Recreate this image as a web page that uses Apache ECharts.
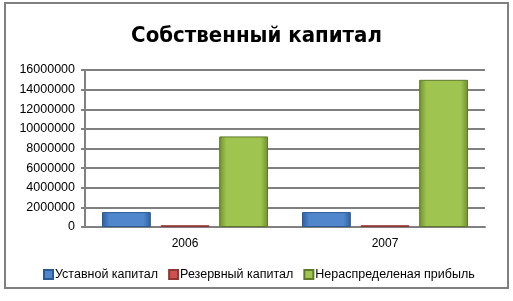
<!DOCTYPE html>
<html><head><meta charset="utf-8">
<script src="https://cdn.jsdelivr.net/npm/echarts@6/dist/echarts.min.js"></script>
<style>html,body{margin:0;padding:0;background:#fff}#c{width:513px;height:301px}</style>
</head><body><div id="c"></div>
<script>
const categories = ['2006', '2007'];
const seriesNames = ['Уставной капитал', 'Резервный капитал', 'Нераспределеная прибыль'];
const ustavnoy = [1520000, 1520000];
const rezervny = [180000, 180000];
const neraspr = [9230000, 15000000];
const yTicks = [0, 2000000, 4000000, 6000000, 8000000, 10000000, 12000000, 14000000, 16000000];

const chart = echarts.init(document.getElementById('c'), null, {renderer: 'canvas'});
function grad(top, bottom) {
  return new echarts.graphic.LinearGradient(0, 0, 1, 0, [
    {offset: 0, color: bottom}, {offset: 0.15, color: top}, {offset: 0.85, color: top}, {offset: 1, color: bottom}
  ]);
}
const font = 'Liberation Sans, sans-serif';
chart.setOption({
  animation: false,
  backgroundColor: '#fff',
  graphic: [{type: 'rect', shape: {x: 5, y: 3, width: 503, height: 285}, style: {fill: 'none', stroke: '#808080', lineWidth: 2}, silent: true}],
  title: {text: 'Собственный капитал', left: 'center', top: 20,
    textStyle: {fontFamily: 'DejaVu Sans Condensed, DejaVu Sans, sans-serif', fontWeight: 'bold', fontSize: 22, color: '#000'}},
  legend: {bottom: 15, left: 38, itemWidth: 9, itemHeight: 9, itemGap: 10, icon: 'rect',
    textStyle: {fontFamily: font, fontSize: 12.5, color: '#000', padding: [0, 0, 0, -3]},
    data: seriesNames},
  grid: {left: 85, right: 28, top: 70, bottom: 74},
  xAxis: {type: 'category', data: categories,
    axisLine: {lineStyle: {color: '#808080', width: 2}}, axisTick: {show: false},
    axisLabel: {fontFamily: font, fontSize: 12, color: '#000', margin: 11}},
  yAxis: {type: 'value', min: yTicks[0], max: yTicks[yTicks.length - 1], interval: 2000000,
    axisLine: {show: true, lineStyle: {color: '#808080', width: 2}},
    axisTick: {show: true, length: 4, lineStyle: {color: '#808080', width: 2}},
    splitLine: {lineStyle: {color: '#808080', width: 2}},
    axisLabel: {fontFamily: font, fontSize: 12.5, color: '#000', margin: 10, formatter: v => String(v)}},
  series: [
    {name: seriesNames[0], type: 'bar', data: ustavnoy, barGap: '20%', barCategoryGap: '17%',
      itemStyle: {color: grad('#4f86cc', '#2f5f9c'), borderColor: '#2a5a94', borderWidth: 1}},
    {name: seriesNames[1], type: 'bar', data: rezervny,
      itemStyle: {color: grad('#d0504d', '#9b3431'), borderColor: '#943634', borderWidth: 1}},
    {name: seriesNames[2], type: 'bar', data: neraspr,
      itemStyle: {color: grad('#9fc550', '#6f8f30'), borderColor: '#5f7a2a', borderWidth: 1}}
  ]
});
</script></body></html>
